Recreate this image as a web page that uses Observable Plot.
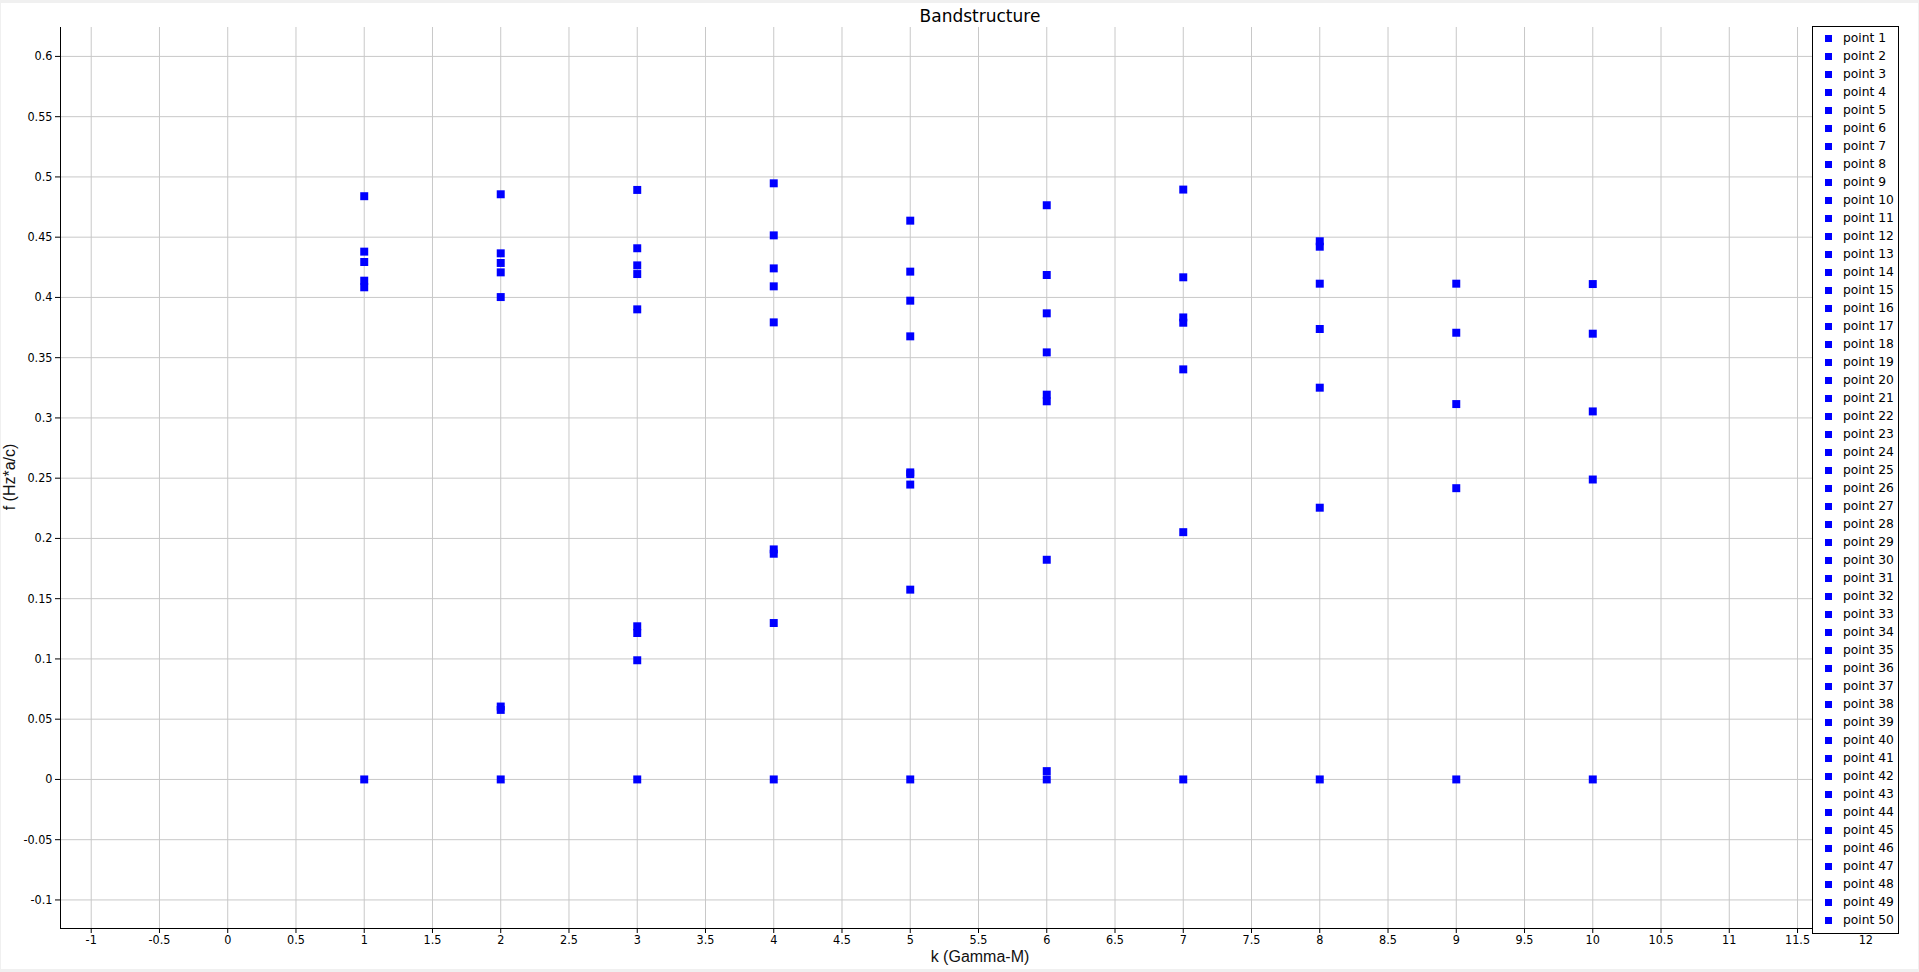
<!DOCTYPE html>
<html>
<head>
<meta charset="utf-8">
<script src="https://cdn.jsdelivr.net/npm/d3@7"></script>
<script src="https://cdn.jsdelivr.net/npm/@observablehq/plot@0.6"></script>
<style>
  html, body { margin: 0; padding: 0; background: #f0f0f0; width: 1919px; height: 972px; overflow: hidden; }
  #panel { position: absolute; left: 1px; top: 3px; width: 1917px; height: 966px; background: #fff; }
  #panel svg { display: block; position: absolute; left: 0; top: 0; }
  #title { position: absolute; left: 830px; width: 300px; top: 8px; text-align: center;
           font-family: "DejaVu Sans", sans-serif; font-size: 17px; line-height: 17px; color: #000; }
  #xlabel { position: absolute; left: 830px; width: 300px; top: 949px; text-align: center;
            font-family: "Liberation Sans", sans-serif; font-size: 16px; line-height: 16px; color: #111; }
  #ylabel { position: absolute; left: 10px; top: 477px; transform: translate(-50%, -50%) rotate(-90deg);
            white-space: nowrap; font-family: "Liberation Sans", sans-serif; font-size: 16px; line-height: 16px; color: #111; }
  #legend { position: absolute; left: 1812px; top: 26px; width: 85px; height: 904px; background: #fff;
            border: 1px solid #000; padding-top: 2px; box-sizing: content-box;
            font-family: "DejaVu Sans", sans-serif; font-size: 12.3px; color: #000; }
  .row { display: flex; align-items: center; height: 18px; }
  .sw { width: 7px; height: 7px; background: #0000ff; margin-left: 12px; flex: none; }
  .lt { margin-left: 11px; white-space: nowrap; }
</style>
</head>
<body>
<div id="panel"></div>
<div id="title">Bandstructure</div>
<div id="xlabel">k (Gamma-M)</div>
<div id="ylabel">f (Hz*a/c)</div>
<div id="legend"></div>
<script>
// ---- data ----
const kPoints = [1, 2, 3, 4, 5, 6, 7, 8, 9, 10];
const freqK1 = [0.4840, 0.4380, 0.4294, 0.4139, 0.4084, 0];
const freqK2 = [0.4856, 0.4366, 0.4286, 0.4208, 0.4003, 0.0605, 0.0577, 0];
const freqK3 = [0.4892, 0.4408, 0.4266, 0.4194, 0.3901, 0.1271, 0.1215, 0.0989, 0];
const freqK4 = [0.4947, 0.4515, 0.4241, 0.4092, 0.3793, 0.1909, 0.1873, 0.1298, 0];
const freqK5 = [0.4637, 0.4214, 0.3973, 0.3677, 0.2548, 0.2534, 0.2447, 0.1575, 0];
const freqK6 = [0.4765, 0.4186, 0.3868, 0.3544, 0.3193, 0.3138, 0.1823, 0.0069, 0];
const freqK7 = [0.4895, 0.4167, 0.3834, 0.3790, 0.3403, 0.2052, 0];
const freqK8 = [0.4466, 0.4421, 0.4114, 0.3738, 0.3251, 0.2255, 0];
const freqK9 = [0.4114, 0.3707, 0.3115, 0.2417, 0];
const freqK10 = [0.4111, 0.3699, 0.3054, 0.2489, 0];
const freqByK = [freqK1, freqK2, freqK3, freqK4, freqK5, freqK6, freqK7, freqK8, freqK9, freqK10];

const xTicks = [-1, -0.5, 0, 0.5, 1, 1.5, 2, 2.5, 3, 3.5, 4, 4.5, 5, 5.5, 6, 6.5, 7, 7.5, 8, 8.5, 9, 9.5, 10, 10.5, 11, 11.5, 12];
const yTicks = [-0.1, -0.05, 0, 0.05, 0.1, 0.15, 0.2, 0.25, 0.3, 0.35, 0.4, 0.45, 0.5, 0.55, 0.6];
const yTickLabels = ["-0.1", "-0.05", "0", "0.05", "0.1", "0.15", "0.2", "0.25", "0.3", "0.35", "0.4", "0.45", "0.5", "0.55", "0.6"];
const legendLabels = [
  "point 1","point 2","point 3","point 4","point 5","point 6","point 7","point 8","point 9","point 10",
  "point 11","point 12","point 13","point 14","point 15","point 16","point 17","point 18","point 19","point 20",
  "point 21","point 22","point 23","point 24","point 25","point 26","point 27","point 28","point 29","point 30",
  "point 31","point 32","point 33","point 34","point 35","point 36","point 37","point 38","point 39","point 40",
  "point 41","point 42","point 43","point 44","point 45","point 46","point 47","point 48","point 49","point 50"
];

// ---- build table ----
const points = [];
kPoints.forEach((k, i) => freqByK[i].forEach(f => points.push({k, f})));

const xDomain = [-1.225, 12.225];
const yDomain = [-0.1237, 0.624];

const chart = Plot.plot({
  width: 1917,
  height: 966,
  marginLeft: 59,
  marginRight: 22,
  marginTop: 24,
  marginBottom: 41,
  x: {domain: xDomain},
  y: {domain: yDomain},
  style: {
    background: "white",
    fontFamily: "'Liberation Sans Narrow', 'DejaVu Sans Condensed', sans-serif",
    fontSize: "12.5px",
    color: "#000",
    overflow: "visible"
  },
  marks: [
    Plot.gridX(xTicks, {stroke: "#c8c8c8", strokeOpacity: 1}),
    Plot.gridY(yTicks, {stroke: "#c8c8c8", strokeOpacity: 1}),
    Plot.axisX(xTicks, {tickSize: 5, tickPadding: 2, tickFormat: d => String(d), label: null}),
    Plot.axisY(yTicks, {tickSize: 5, tickPadding: 3, tickFormat: d => yTickLabels[yTicks.indexOf(d)], label: null}),
    Plot.ruleX([xDomain[0]], {stroke: "#000"}),
    Plot.ruleY([yDomain[0]], {stroke: "#000"}),
    Plot.dot(points, {x: "k", y: "f", symbol: "square", r: 4.5, fill: "#0000ff", stroke: "none"})
  ]
});
document.getElementById("panel").appendChild(chart);

// ---- legend ----
const legend = document.getElementById("legend");
legendLabels.forEach(name => {
  const row = document.createElement("div");
  row.className = "row";
  const sw = document.createElement("div");
  sw.className = "sw";
  const t = document.createElement("span");
  t.className = "lt";
  t.textContent = name;
  row.appendChild(sw);
  row.appendChild(t);
  legend.appendChild(row);
});
</script>
</body>
</html>
